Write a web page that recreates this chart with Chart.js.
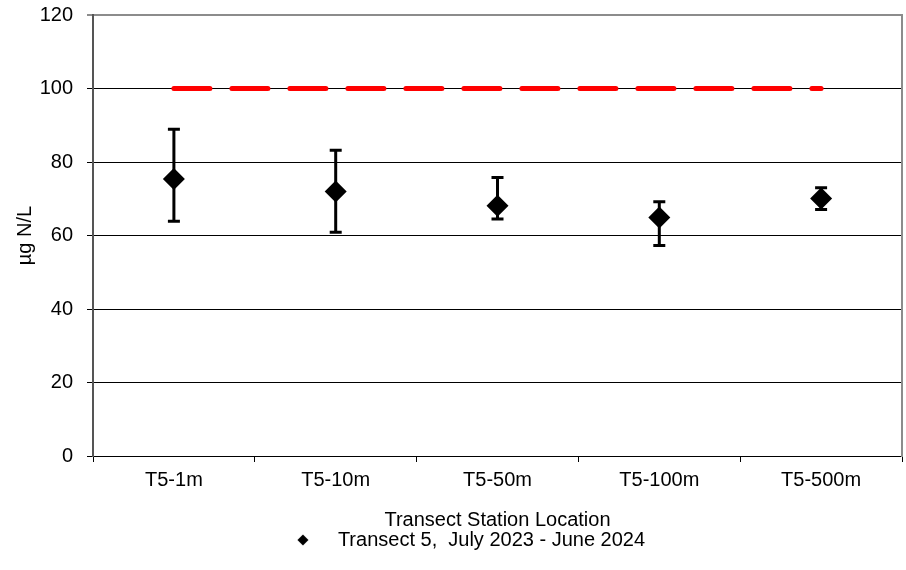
<!DOCTYPE html>
<html>
<head>
<meta charset="utf-8">
<script src="https://cdn.jsdelivr.net/npm/chart.js@4"></script>
<style>
  html, body { margin: 0; padding: 0; background: #fff; }
  #wrap { width: 906px; height: 570px; }
</style>
</head>
<body>
<div id="wrap"><canvas id="c" width="906" height="570"></canvas></div>
<script>
const categories = ['T5-1m', 'T5-10m', 'T5-50m', 'T5-100m', 'T5-500m'];
const means = [75.4, 72.0, 68.1, 64.9, 70.1];
const upperErr = [88.9, 83.2, 75.8, 69.2, 73.0];
const lowerErr = [63.9, 60.9, 64.5, 57.3, 67.1];
const criterion = [100, 100, 100, 100, 100];
const yTicks = [0, 20, 40, 60, 80, 100, 120];
const seriesLabel = 'Transect 5,  July 2023 - June 2024';
const xTitle = 'Transect Station Location';
const yTitle = 'µg N/L';

Chart.defaults.font.family = '"Liberation Sans", Arial, sans-serif';
Chart.defaults.font.size = 20;
Chart.defaults.color = '#000';

// small diamond used as legend marker
const legendDiamond = document.createElement('canvas');
legendDiamond.width = 12; legendDiamond.height = 12;
(function () {
  const g = legendDiamond.getContext('2d');
  g.fillStyle = '#000';
  g.beginPath();
  g.moveTo(6, 0.5); g.lineTo(11.5, 6); g.lineTo(6, 11.5); g.lineTo(0.5, 6);
  g.closePath(); g.fill();
})();

const errorBars = {
  id: 'errorBars',
  beforeDatasetsDraw(chart) {
    const ctx = chart.ctx;
    const xs = chart.scales.x, ys = chart.scales.y;
    ctx.save();
    ctx.strokeStyle = '#000';
    ctx.lineWidth = 3;
    ctx.lineCap = 'butt';
    for (let i = 0; i < categories.length; i++) {
      const x = xs.getPixelForValue(i);
      const yt = ys.getPixelForValue(upperErr[i]);
      const yb = ys.getPixelForValue(lowerErr[i]);
      ctx.beginPath();
      ctx.moveTo(x, yt); ctx.lineTo(x, yb);
      ctx.moveTo(x - 6, yt); ctx.lineTo(x + 6, yt);
      ctx.moveTo(x - 6, yb); ctx.lineTo(x + 6, yb);
      ctx.stroke();
    }
    ctx.restore();
  }
};

const zeroPad = (s) => { s.paddingTop = 0; s.paddingBottom = 0; s.paddingLeft = 0; s.paddingRight = 0; };

new Chart(document.getElementById('c'), {
  type: 'line',
  data: {
    labels: categories,
    datasets: [
      {
        label: seriesLabel,
        data: means,
        showLine: false,
        pointStyle: 'rectRot',
        pointRadius: 11,
        pointHoverRadius: 11,
        backgroundColor: '#000',
        borderColor: '#000',
        pointBorderWidth: 0
      },
      {
        label: 'criterion',
        data: criterion,
        borderColor: '#ff0000',
        borderWidth: 5,
        borderDash: [36, 22],
        borderCapStyle: 'round',
        pointRadius: 0,
        fill: false
      }
    ]
  },
  options: {
    responsive: false,
    animation: false,
    events: [],
    layout: { autoPadding: false, padding: { left: 17, right: 0, top: 15, bottom: 10 } },
    plugins: {
      tooltip: { enabled: false },
      legend: {
        position: 'bottom',
        labels: {
          usePointStyle: true,
          pointStyleWidth: 50,
          boxHeight: 12,
          padding: 2,
          font: { size: 20, lineHeight: 1 },
          filter: (item) => item.datasetIndex === 0,
          generateLabels: (chart) => [{
            text: seriesLabel,
            pointStyle: legendDiamond,
            fillStyle: '#000',
            strokeStyle: '#000',
            lineWidth: 0,
            datasetIndex: 0,
            hidden: false
          }]
        }
      }
    },
    scales: {
      x: {
        type: 'category',
        offset: true,
        grid: {
          offset: true,
          drawOnChartArea: false,
          drawTicks: true,
          tickLength: 6,
          color: '#000',
          lineWidth: 1
        },
        border: { display: true, color: '#000', width: 1 },
        ticks: { padding: 6, font: { size: 20 }, maxRotation: 0 },
        title: { display: true, text: xTitle, font: { size: 20 }, padding: { top: 0, bottom: -4 } },
        afterFit: (s) => { s.height = 72; zeroPad(s); }
      },
      y: {
        min: 0,
        max: 120,
        afterBuildTicks: (s) => { s.ticks = yTicks.map(v => ({ value: v })); },
        grid: {
          drawTicks: true,
          tickLength: 6,
          color: (c) => c.tick && c.tick.value === 120 ? '#8c8c8c' : '#000',
          lineWidth: (c) => c.tick && c.tick.value === 120 ? 2 : 1
        },
        border: { display: true, color: '#555', width: 2 },
        ticks: { padding: 14, font: { size: 20 } },
        title: { display: true, text: yTitle, font: { size: 20 }, padding: { top: -4, bottom: 0 } },
        afterFit: (s) => { s.width = 76; zeroPad(s); }
      },
      y2: {
        position: 'right',
        min: 0,
        max: 120,
        grid: { display: true, drawOnChartArea: false, drawTicks: false },
        border: { display: true, color: '#8c8c8c', width: 2 },
        ticks: { display: false },
        afterFit: (s) => { s.width = 4; zeroPad(s); }
      }
    }
  },
  plugins: [errorBars]
});
</script>
</body>
</html>
